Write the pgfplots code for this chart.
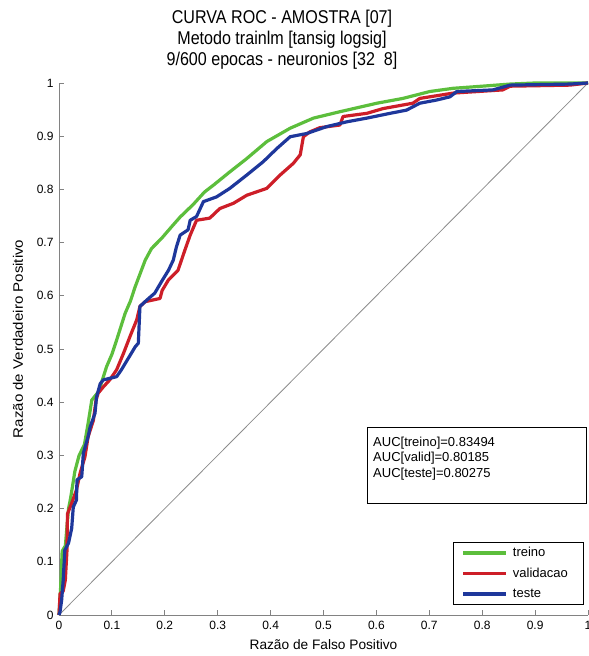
\documentclass[border=0pt]{standalone}
\usepackage{fontspec}
\setmainfont{Liberation Sans}
\usepackage{pgfplots}
\pgfplotsset{compat=1.18}
\definecolor{cgreen}{RGB}{92,190,60}
\definecolor{cred}{RGB}{205,30,40}
\definecolor{cblue}{RGB}{30,55,155}
\definecolor{caxis}{RGB}{130,130,130}
\definecolor{cdiag}{RGB}{140,140,140}
\begin{document}
\begin{tikzpicture}
\useasboundingbox (-59bp,-41bp) rectangle (530bp,615bp);
\begin{axis}[
  at={(0,0)}, anchor=south west,
  scale only axis, width=529bp, height=532bp,
  xmin=0, xmax=1, ymin=0, ymax=1,
  clip=false,
  axis x line*=bottom, axis y line*=left,
  axis line style={-, draw=caxis, line width=0.8bp},
  tick align=inside, major tick length=5bp,
  tick style={draw=caxis, line width=0.8bp},
  xtick={0,0.1,0.2,0.3,0.4,0.5,0.6,0.7,0.8,0.9,1},
  xticklabels={0,0.1,0.2,0.3,0.4,0.5,0.6,0.7,0.8,0.9,1},
  ytick={0,0.1,0.2,0.3,0.4,0.5,0.6,0.7,0.8,0.9,1},
  yticklabels={0,0.1,0.2,0.3,0.4,0.5,0.6,0.7,0.8,0.9,1},
  /pgf/number format/assume math mode=true,
  ticklabel style={font=\fontsize{12bp}{14bp}\selectfont, text=black},
  xticklabel style={yshift=-3bp},
  yticklabel style={xshift=-2bp},
  xlabel={Razão de Falso Positivo},
  ylabel={\scalebox{1.1}[1]{Razão de Verdadeiro Positivo}},
  label style={font=\fontsize{13.7bp}{16bp}\selectfont},
  xlabel style={at={(axis description cs:0.5,-0.0564)}, anchor=center},
  ylabel style={at={(axis description cs:-0.0775,0.519)}, anchor=center},
  title={\scalebox{0.87}[1]{\begin{tabular}{@{}c@{}}CURVA ROC - AMOSTRA [07]\\Metodo trainlm [tansig logsig]\\9/600 epocas - neuronios [32\ \ 8]\end{tabular}}},
  title style={font=\fontsize{18.5bp}{21bp}\selectfont, at={(axis description cs:0.4216,1.0686)}, anchor=center, inner sep=0pt},
  legend style={at={(rel axis cs:0.991,0.019)}, anchor=south east, draw=black, line width=0.6bp,
    fill=white, font=\fontsize{13bp}{15bp}\selectfont,
    inner xsep=8bp, inner ysep=4bp, row sep=7.5bp,
    nodes={inner sep=0pt, text height=10bp, text depth=3bp}},
  legend cell align=left,
  legend image code/.code={\draw[#1, line width=3.2bp] (0bp,0bp) -- (43bp,0bp);},
]
\addplot[cdiag, line width=0.8bp, forget plot] coordinates {(0,0) (1,1)};
\addplot[cgreen, line width=3.2bp, line join=round] coordinates {
(0,0) (0.003,0.05) (0.006,0.12) (0.012,0.13) (0.018,0.2) (0.022,0.22) (0.03,0.27) (0.038,0.3) (0.048,0.32) (0.055,0.36) (0.062,0.404) (0.075,0.42) (0.09,0.467) (0.1,0.49) (0.109,0.517) (0.125,0.567) (0.135,0.59) (0.144,0.617) (0.163,0.667) (0.175,0.689) (0.194,0.708) (0.213,0.73) (0.229,0.748) (0.254,0.772) (0.275,0.795) (0.292,0.808) (0.323,0.833) (0.355,0.858) (0.393,0.89) (0.437,0.915) (0.481,0.934) (0.531,0.946) (0.601,0.962) (0.650,0.971) (0.701,0.984) (0.745,0.99) (0.8,0.994) (0.853,0.998) (0.9,1) (1,1)
};
\addlegendentry{\makebox[67bp][l]{\hskip5bp treino}}
\addplot[cred, line width=3.2bp, line join=round] coordinates {
(0,0) (0.002,0.04) (0.008,0.045) (0.012,0.066) (0.015,0.12) (0.016,0.19) (0.024,0.21) (0.033,0.235) (0.04,0.267) (0.049,0.297) (0.055,0.335) (0.065,0.366) (0.07,0.404) (0.074,0.417) (0.084,0.429) (0.096,0.442) (0.109,0.461) (0.122,0.492) (0.134,0.523) (0.147,0.555) (0.153,0.58) (0.163,0.589) (0.191,0.595) (0.195,0.61) (0.207,0.63) (0.225,0.648) (0.238,0.686) (0.248,0.714) (0.260,0.742) (0.285,0.746) (0.304,0.764) (0.330,0.774) (0.355,0.789) (0.393,0.802) (0.418,0.827) (0.443,0.849) (0.456,0.865) (0.462,0.899) (0.474,0.908) (0.493,0.916) (0.531,0.921) (0.537,0.937) (0.582,0.943) (0.613,0.952) (0.669,0.962) (0.682,0.971) (0.745,0.981) (0.839,0.987) (0.853,0.994) (0.966,0.996) (1,1)
};
\addlegendentry{\makebox[67bp][l]{\hskip5bp validacao}}
\addplot[cblue, line width=3.2bp, line join=round] coordinates {
(0,0) (0.002,0.006) (0.005,0.028) (0.008,0.066) (0.011,0.122) (0.018,0.135) (0.024,0.163) (0.027,0.203) (0.033,0.216) (0.034,0.254) (0.043,0.26) (0.046,0.304) (0.055,0.335) (0.059,0.354) (0.068,0.379) (0.071,0.41) (0.078,0.435) (0.084,0.442) (0.109,0.448) (0.118,0.461) (0.144,0.504) (0.15,0.511) (0.153,0.58) (0.166,0.592) (0.181,0.605) (0.194,0.627) (0.207,0.648) (0.216,0.667) (0.222,0.692) (0.229,0.714) (0.244,0.724) (0.248,0.742) (0.260,0.749) (0.273,0.777) (0.298,0.786) (0.323,0.802) (0.355,0.827) (0.386,0.852) (0.412,0.877) (0.437,0.899) (0.468,0.905) (0.506,0.918) (0.544,0.927) (0.582,0.934) (0.626,0.943) (0.657,0.949) (0.682,0.962) (0.714,0.968) (0.739,0.974) (0.752,0.984) (0.82,0.987) (0.853,0.996) (0.966,0.998) (1,1)
};
\addlegendentry{\makebox[67bp][l]{\hskip5bp teste}}
\draw[black, line width=0.6bp] (axis cs:0.5822,0.2105) rectangle (axis cs:0.9962,0.3534);
\node[anchor=base west, inner sep=0pt, font=\fontsize{13bp}{15bp}\selectfont] at (axis cs:0.5936,0.3169) {AUC[treino]=0.83494};
\node[anchor=base west, inner sep=0pt, font=\fontsize{13bp}{15bp}\selectfont] at (axis cs:0.5936,0.2882) {AUC[valid]=0.80185};
\node[anchor=base west, inner sep=0pt, font=\fontsize{13bp}{15bp}\selectfont] at (axis cs:0.5936,0.2581) {AUC[teste]=0.80275};
\end{axis}
\end{tikzpicture}
\end{document}
